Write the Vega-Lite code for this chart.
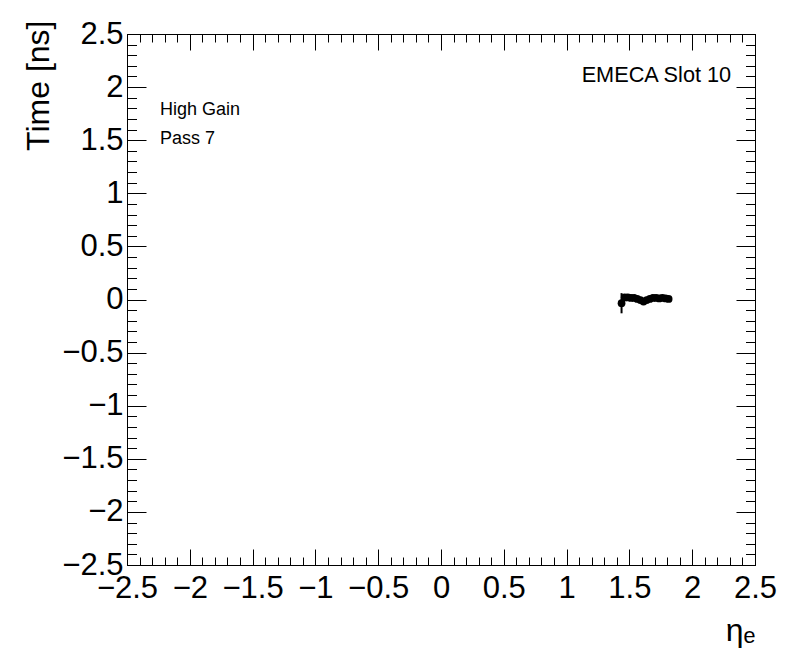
{
  "$schema": "https://vega.github.io/schema/vega-lite/v6.json",
  "width": 628,
  "height": 531,
  "autosize": {"type": "none"},
  "padding": {"left": 127, "top": 34, "right": 41, "bottom": 107},
  "background": "white",
  "config": {
    "view": {"stroke": "black", "strokeWidth": 1},
    "axis": {
      "grid": false, "domain": false, "tickColor": "black", "tickWidth": 1,
      "labelColor": "black", "titleColor": "black",
      "labelFont": "Liberation Sans", "titleFont": "Liberation Sans",
      "labelFontSize": 31, "titleFontSize": 32, "titleFontWeight": "normal",
      "labelOverlap": false, "labelFlush": false, "labelBound": false
    }
  },
  "datasets": {
    "pts": [
      {"eta": 1.4375, "xlo": 1.425, "xhi": 1.45, "t": -0.035, "lo": -0.13, "hi": 0.06},
      {"eta": 1.4625, "xlo": 1.45, "xhi": 1.475, "t": 0.02, "lo": 0.0, "hi": 0.04},
      {"eta": 1.4875, "xlo": 1.475, "xhi": 1.5, "t": 0.02, "lo": 0.0, "hi": 0.04},
      {"eta": 1.5125, "xlo": 1.5, "xhi": 1.525, "t": 0.015, "lo": -0.005, "hi": 0.035},
      {"eta": 1.5375, "xlo": 1.525, "xhi": 1.55, "t": 0.015, "lo": -0.005, "hi": 0.035},
      {"eta": 1.5625, "xlo": 1.55, "xhi": 1.575, "t": 0.005, "lo": -0.015, "hi": 0.025},
      {"eta": 1.5875, "xlo": 1.575, "xhi": 1.6, "t": -0.005, "lo": -0.025, "hi": 0.015},
      {"eta": 1.6125, "xlo": 1.6, "xhi": 1.625, "t": -0.02, "lo": -0.04, "hi": 0.0},
      {"eta": 1.6375, "xlo": 1.625, "xhi": 1.65, "t": -0.005, "lo": -0.025, "hi": 0.015},
      {"eta": 1.6625, "xlo": 1.65, "xhi": 1.675, "t": 0.005, "lo": -0.015, "hi": 0.025},
      {"eta": 1.6875, "xlo": 1.675, "xhi": 1.7, "t": 0.015, "lo": -0.005, "hi": 0.035},
      {"eta": 1.7125, "xlo": 1.7, "xhi": 1.725, "t": 0.015, "lo": -0.005, "hi": 0.035},
      {"eta": 1.7375, "xlo": 1.725, "xhi": 1.75, "t": 0.01, "lo": -0.01, "hi": 0.03},
      {"eta": 1.7625, "xlo": 1.75, "xhi": 1.775, "t": 0.015, "lo": -0.005, "hi": 0.035},
      {"eta": 1.7875, "xlo": 1.775, "xhi": 1.8, "t": 0.01, "lo": -0.01, "hi": 0.03},
      {"eta": 1.8125, "xlo": 1.8, "xhi": 1.825, "t": 0.005, "lo": -0.015, "hi": 0.025}
    ],
    "right_text": [
      {"tx": 2.31, "ty": 2.05, "label": "EMECA Slot 10"}
    ],
    "left_text": [
      {"tx": -2.237, "ty": 1.74, "label": "High Gain"},
      {"tx": -2.237, "ty": 1.465, "label": "Pass 7"}
    ]
  },
  "layer": [
    {
      "data": {"name": "pts"},
      "mark": {"type": "rule", "color": "black", "strokeWidth": 2},
      "encoding": {
        "x": {
          "field": "eta", "type": "quantitative",
          "scale": {"domain": [-2.5, 2.5], "nice": false, "zero": false},
          "axis": {
            "orient": "bottom",
            "values": [-2.5, -2, -1.5, -1, -0.5, 0, 0.5, 1, 1.5, 2, 2.5],
            "format": "~g", "tickSize": -16, "labelPadding": 24,
            "title": "ηₑ", "titleX": 628, "titleY": 75,
            "titleAlign": "right", "titleBaseline": "alphabetic", "titleAngle": 0
          }
        },
        "y": {
          "field": "lo", "type": "quantitative",
          "scale": {"domain": [-2.5, 2.5], "nice": false, "zero": false},
          "axis": {
            "orient": "left",
            "values": [-2.5, -2, -1.5, -1, -0.5, 0, 0.5, 1, 1.5, 2, 2.5],
            "format": "~g", "tickSize": -19, "labelPadding": 23,
            "title": "Time [ns]", "titleX": -79, "titleY": -14, "titleAngle": 270,
            "titleAlign": "right", "titleBaseline": "alphabetic"
          }
        },
        "y2": {"field": "hi"}
      }
    },
    {
      "data": {"name": "pts"},
      "mark": {"type": "rule", "color": "black", "strokeWidth": 2},
      "encoding": {
        "x": {"field": "xlo", "type": "quantitative", "scale": {"domain": [-2.5, 2.5], "nice": false, "zero": false}, "axis": null},
        "x2": {"field": "xhi"},
        "y": {"field": "t", "type": "quantitative", "scale": {"domain": [-2.5, 2.5], "nice": false, "zero": false}, "axis": null}
      }
    },
    {
      "data": {"name": "pts"},
      "mark": {"type": "point", "filled": true, "shape": "circle", "color": "black", "opacity": 1, "size": 60},
      "encoding": {
        "x": {
          "field": "eta", "type": "quantitative",
          "scale": {"domain": [-2.5, 2.5], "nice": false, "zero": false},
          "axis": {
            "orient": "bottom",
            "values": [-2.5, -2.4, -2.3, -2.2, -2.1, -2, -1.9, -1.8, -1.7, -1.6, -1.5, -1.4, -1.3, -1.2, -1.1, -1, -0.9, -0.8, -0.7, -0.6, -0.5, -0.4, -0.3, -0.2, -0.1, 0, 0.1, 0.2, 0.3, 0.4, 0.5, 0.6, 0.7, 0.8, 0.9, 1, 1.1, 1.2, 1.3, 1.4, 1.5, 1.6, 1.7, 1.8, 1.9, 2, 2.1, 2.2, 2.3, 2.4, 2.5],
            "tickSize": -8, "labels": false, "title": null
          }
        },
        "y": {
          "field": "t", "type": "quantitative",
          "scale": {"domain": [-2.5, 2.5], "nice": false, "zero": false},
          "axis": {
            "orient": "left",
            "values": [-2.5, -2.4, -2.3, -2.2, -2.1, -2, -1.9, -1.8, -1.7, -1.6, -1.5, -1.4, -1.3, -1.2, -1.1, -1, -0.9, -0.8, -0.7, -0.6, -0.5, -0.4, -0.3, -0.2, -0.1, 0, 0.1, 0.2, 0.3, 0.4, 0.5, 0.6, 0.7, 0.8, 0.9, 1, 1.1, 1.2, 1.3, 1.4, 1.5, 1.6, 1.7, 1.8, 1.9, 2, 2.1, 2.2, 2.3, 2.4, 2.5],
            "tickSize": -9.5, "labels": false, "title": null
          }
        }
      }
    },
    {
      "data": {"name": "right_text"},
      "mark": {"type": "text", "align": "right", "baseline": "alphabetic", "font": "Liberation Sans", "fontSize": 21.7, "color": "black"},
      "encoding": {
        "text": {"field": "label"},
        "x": {
          "field": "tx", "type": "quantitative",
          "scale": {"domain": [-2.5, 2.5], "nice": false, "zero": false},
          "axis": {
            "orient": "top",
            "values": [-2.5, -2, -1.5, -1, -0.5, 0, 0.5, 1, 1.5, 2, 2.5],
            "tickSize": -16, "labels": false, "title": null
          }
        },
        "y": {
          "field": "ty", "type": "quantitative",
          "scale": {"domain": [-2.5, 2.5], "nice": false, "zero": false},
          "axis": {
            "orient": "right",
            "values": [-2.5, -2, -1.5, -1, -0.5, 0, 0.5, 1, 1.5, 2, 2.5],
            "tickSize": -19, "labels": false, "title": null
          }
        }
      }
    },
    {
      "data": {"name": "left_text"},
      "mark": {"type": "text", "align": "left", "baseline": "alphabetic", "font": "Liberation Sans", "fontSize": 18, "color": "black"},
      "encoding": {
        "text": {"field": "label"},
        "x": {
          "field": "tx", "type": "quantitative",
          "scale": {"domain": [-2.5, 2.5], "nice": false, "zero": false},
          "axis": {
            "orient": "top",
            "values": [-2.5, -2.4, -2.3, -2.2, -2.1, -2, -1.9, -1.8, -1.7, -1.6, -1.5, -1.4, -1.3, -1.2, -1.1, -1, -0.9, -0.8, -0.7, -0.6, -0.5, -0.4, -0.3, -0.2, -0.1, 0, 0.1, 0.2, 0.3, 0.4, 0.5, 0.6, 0.7, 0.8, 0.9, 1, 1.1, 1.2, 1.3, 1.4, 1.5, 1.6, 1.7, 1.8, 1.9, 2, 2.1, 2.2, 2.3, 2.4, 2.5],
            "tickSize": -8, "labels": false, "title": null
          }
        },
        "y": {
          "field": "ty", "type": "quantitative",
          "scale": {"domain": [-2.5, 2.5], "nice": false, "zero": false},
          "axis": {
            "orient": "right",
            "values": [-2.5, -2.4, -2.3, -2.2, -2.1, -2, -1.9, -1.8, -1.7, -1.6, -1.5, -1.4, -1.3, -1.2, -1.1, -1, -0.9, -0.8, -0.7, -0.6, -0.5, -0.4, -0.3, -0.2, -0.1, 0, 0.1, 0.2, 0.3, 0.4, 0.5, 0.6, 0.7, 0.8, 0.9, 1, 1.1, 1.2, 1.3, 1.4, 1.5, 1.6, 1.7, 1.8, 1.9, 2, 2.1, 2.2, 2.3, 2.4, 2.5],
            "tickSize": -9.5, "labels": false, "title": null
          }
        }
      }
    }
  ],
  "resolve": {"axis": {"x": "independent", "y": "independent"}}
}
